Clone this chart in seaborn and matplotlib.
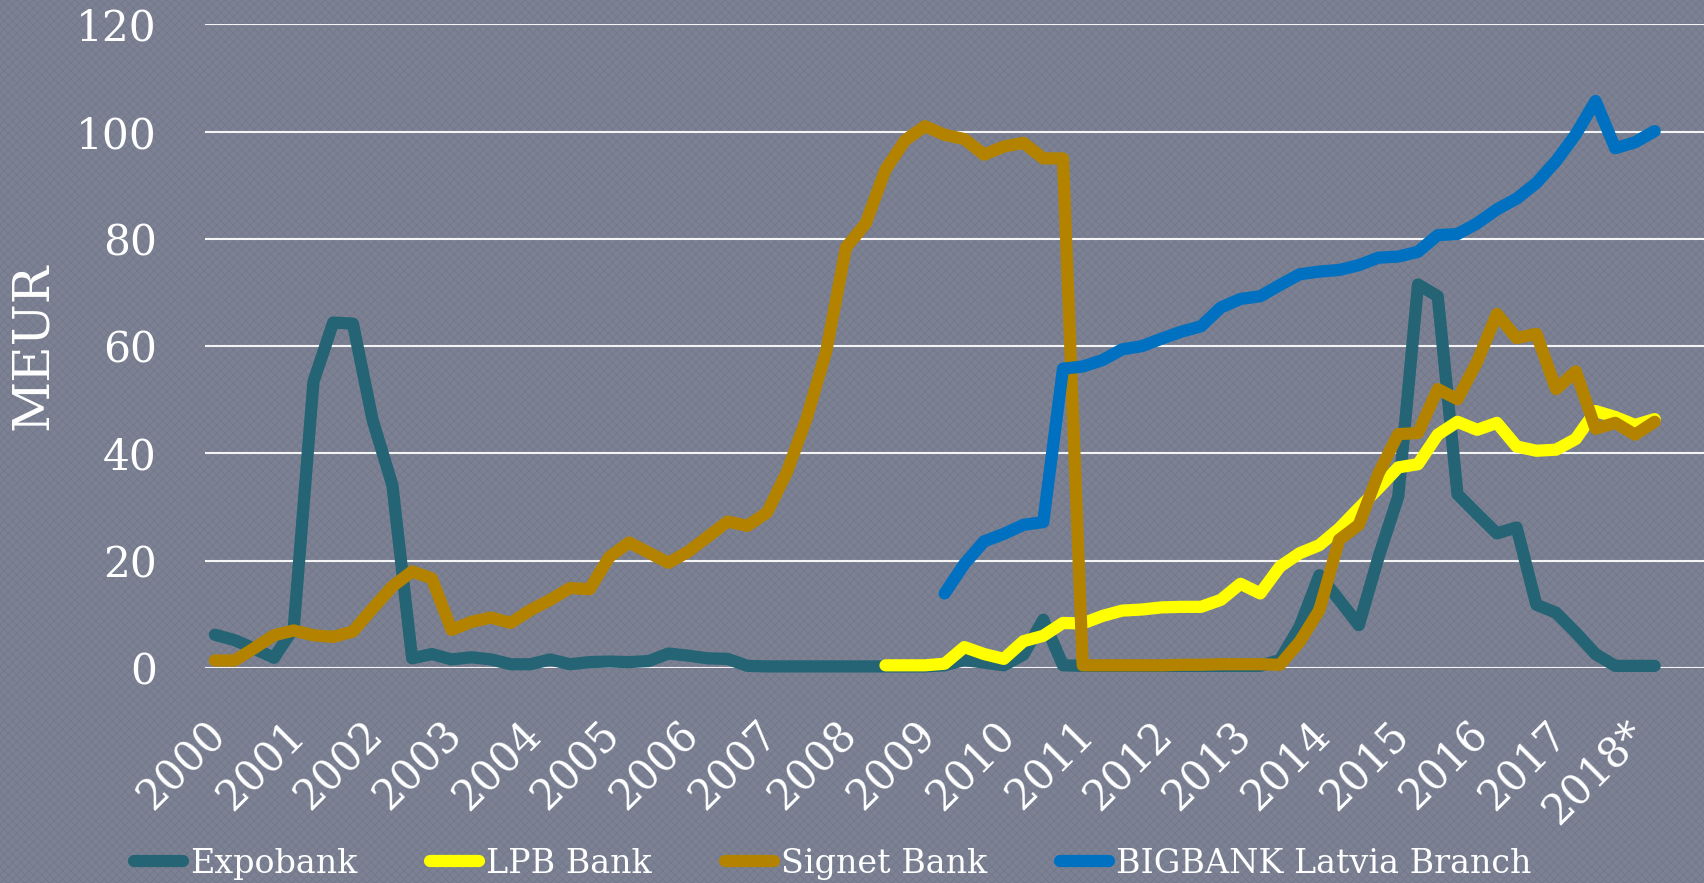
import numpy as np
import pandas as pd
import matplotlib
matplotlib.use("Agg")
import matplotlib.pyplot as plt
import matplotlib.transforms as mtransforms
from matplotlib.patches import Rectangle
import seaborn as sns

# ---------------- data (quarterly, 2000Q1 .. 2018Q2, MEUR) ----------------
year_labels = ["2000", "2001", "2002", "2003", "2004", "2005", "2006", "2007",
               "2008", "2009", "2010", "2011", "2012", "2013", "2014", "2015",
               "2016", "2017", "2018*"]

expobank = [6.2, 5.2, 3.6, 1.9, 7.5, 53.4, 64.4, 64.2,
            46.2, 34.1, 1.8, 2.6, 1.6, 2.0, 1.6, 0.7,
            0.7, 1.6, 0.7, 1.1, 1.2, 1.1, 1.3, 2.7,
            2.3, 1.8, 1.7, 0.4, 0.3, 0.3, 0.3, 0.3,
            0.3, 0.3, 0.3, 0.3, 0.3, 0.5, 1.5, 1.0,
            0.5, 2.5, 9.0, 0.5, 0.4, 0.4, 0.4, 0.4,
            0.4, 0.4, 0.4, 0.4, 0.4, 0.4, 1.5, 7.7,
            17.3, 12.7, 8.0, 20.7, 32.0, 71.5, 69.3, 32.4,
            28.7, 25.1, 26.2, 11.8, 10.3, 6.6, 2.6, 0.4,
            0.4, 0.4]

lpb_bank = [None, None, None, None, None, None, None, None,
            None, None, None, None, None, None, None, None,
            None, None, None, None, None, None, None, None,
            None, None, None, None, None, None, None, None,
            None, None, 0.5, 0.5, 0.5, 0.8, 3.9, 2.6,
            1.7, 5.0, 6.0, 8.4, 8.3, 9.7, 10.7, 10.9,
            11.3, 11.4, 11.4, 12.7, 15.7, 13.9, 18.9, 21.4,
            22.9, 26.0, 29.8, 33.5, 37.4, 38.0, 43.5, 45.9,
            44.4, 45.7, 41.3, 40.5, 40.7, 42.7, 47.9, 46.8,
            45.3, 46.4]

signet_bank = [1.4, 1.4, 3.7, 6.1, 7.0, 6.1, 5.8, 6.8,
               11.1, 15.2, 18.0, 16.7, 7.1, 8.6, 9.4, 8.4,
               10.8, 12.7, 14.9, 14.7, 20.7, 23.4, 21.5, 19.6,
               21.7, 24.5, 27.3, 26.5, 29.0, 36.5, 46.5, 59.1,
               78.4, 82.9, 92.9, 98.4, 101.0, 99.4, 98.6, 95.7,
               97.2, 97.9, 95.0, 95.0, 0.5, 0.5, 0.5, 0.5,
               0.5, 0.6, 0.6, 0.7, 0.7, 0.7, 0.6, 4.9,
               10.8, 23.9, 26.7, 36.3, 43.6, 43.8, 52.0, 50.1,
               57.1, 66.0, 61.5, 62.3, 52.0, 55.3, 44.6, 45.7,
               43.5, 45.9]

bigbank = [None, None, None, None, None, None, None, None,
           None, None, None, None, None, None, None, None,
           None, None, None, None, None, None, None, None,
           None, None, None, None, None, None, None, None,
           None, None, None, None, None, 13.9, 19.4, 23.6,
           25.0, 26.7, 27.2, 55.8, 56.2, 57.4, 59.4, 60.0,
           61.4, 62.7, 63.7, 67.2, 68.8, 69.3, 71.4, 73.4,
           73.9, 74.2, 75.1, 76.5, 76.7, 77.6, 80.7, 80.9,
           82.9, 85.5, 87.5, 90.4, 94.5, 99.5, 105.7, 96.9,
           98.0, 100.1]

series_names = ["Expobank", "LPB Bank", "Signet Bank", "BIGBANK Latvia Branch"]
series_values = [expobank, lpb_bank, signet_bank, bigbank]
series_colors = ["#246474", "#FFFF00", "#B38300", "#0070C0"]

y_ticks = [0, 20, 40, 60, 80, 100, 120]

# ---------------- figure ----------------
sns.set_theme(style="white")
plt.rcParams["font.family"] = ["DejaVu Serif"]
plt.rcParams["hatch.linewidth"] = 0.8

W, H = 1704, 883
fig = plt.figure(figsize=(W / 100, H / 100), dpi=100)
fig.patch.set_facecolor("#7c8294")
texture = Rectangle((0, 0), 1, 1, transform=fig.transFigure, facecolor="none",
                    edgecolor="#747a8c", hatch="xxxx", linewidth=0, zorder=-5)
fig.add_artist(texture)

ax = fig.add_axes([205 / W, 1 - 668 / H, 1 - 205 / W, (668 - 24.3) / H])
ax.set_facecolor("none")

n_cat = 76  # 2000Q1 .. 2018Q4 category slots
for name, vals, col in zip(series_names, series_values, series_colors):
    s = pd.Series(vals, dtype=float)
    df = pd.DataFrame({"q": np.arange(len(s)), "v": s}).dropna()
    sns.lineplot(data=df, x="q", y="v", ax=ax, color=col, linewidth=8.8,
                 label=name, estimator=None, sort=False,
                 solid_capstyle="round", solid_joinstyle="round",
                 clip_on=False)

ax.set_xlim(-0.5, n_cat - 0.5)
ax.set_ylim(0, 120)
ax.set_yticks(y_ticks)
ax.set_xticks(np.arange(0, 4 * len(year_labels), 4))
ax.set_xticklabels(year_labels)
ax.set_xlabel("")

ax.set_axisbelow(True)
ax.yaxis.grid(True, color="#f4f4f4", linewidth=1.5)
ax.xaxis.grid(False)
sns.despine(ax=ax, left=True, bottom=True)

ax.tick_params(axis="y", length=0, pad=34.5, labelsize=30.5, colors="white")
ax.tick_params(axis="x", length=0, pad=43, labelsize=30, colors="white")
offset = mtransforms.ScaledTranslation(4 / 100, 0, fig.dpi_scale_trans)
for lbl in ax.get_xticklabels():
    lbl.set_rotation(45)
    lbl.set_ha("right")
    lbl.set_va("center")
    lbl.set_rotation_mode("anchor")
    lbl.set_transform(lbl.get_transform() + offset)

ax.set_ylabel("MEUR", fontsize=36, color="white")
ax.yaxis.set_label_coords((33 - 205) / (W - 205), 0.5)
ax.yaxis.label.set_va("center")

handles, labels = ax.get_legend_handles_labels()
ax.legend(handles, labels, loc="center left",
          bbox_to_anchor=(134 / W, 1 - 864 / H), bbox_transform=fig.transFigure,
          ncol=4, frameon=False, fontsize=24, handlelength=1.47,
          handletextpad=0.2, columnspacing=2.2, borderpad=0,
          borderaxespad=0, labelcolor="white")

fig.savefig("out.png", dpi=100, facecolor=fig.get_facecolor())
